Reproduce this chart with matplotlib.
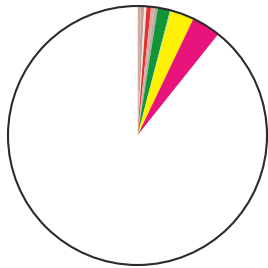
#!/usr/bin/env python3
"""Pie chart with one dominant white slice and a fan of thin coloured slices."""

import matplotlib
matplotlib.use('Agg')
import matplotlib.pyplot as plt

# --- Data (percent shares, clockwise from 12 o'clock) ---
labels = ['A', 'B', 'C', 'D', 'E', 'F', 'G', 'H', 'I', 'J', 'Other']
shares = [0.42, 0.42, 0.28, 0.56, 0.42, 0.42, 1.53, 0.14, 2.92, 3.61]
shares.append(100 - sum(shares))
colors = ['#d9a994', '#bfa3a3', '#f2e4e4', '#e0342f', '#eba3a0', '#a8b4a6',
          '#139436', '#9fd89a', '#fff200', '#e8137b', '#ffffff']

DPI = 100
W = H = 268

fig = plt.figure(figsize=(W / DPI, H / DPI), dpi=DPI)
fig.set_facecolor('white')

# pie centre ~ (137.5, 132.5) px from bottom-left, radius ~129.5 px
lim = 1.02
size = 2 * lim * 129.5
ax = fig.add_axes([(137.5 - size / 2) / W, (132.5 - size / 2) / H, size / W, size / H])

ax.pie(shares, colors=colors, startangle=90, counterclock=False, radius=1,
       wedgeprops=dict(edgecolor='none', linewidth=0))
ax.add_patch(plt.Circle((0, 0), 1, fill=False, edgecolor='#2b2b2b', linewidth=1.5))

ax.set_xlim(-lim, lim)
ax.set_ylim(-lim, lim)
ax.set_aspect('equal')
ax.axis('off')

fig.savefig('out.png', dpi=DPI, facecolor='white')
plt.close(fig)
